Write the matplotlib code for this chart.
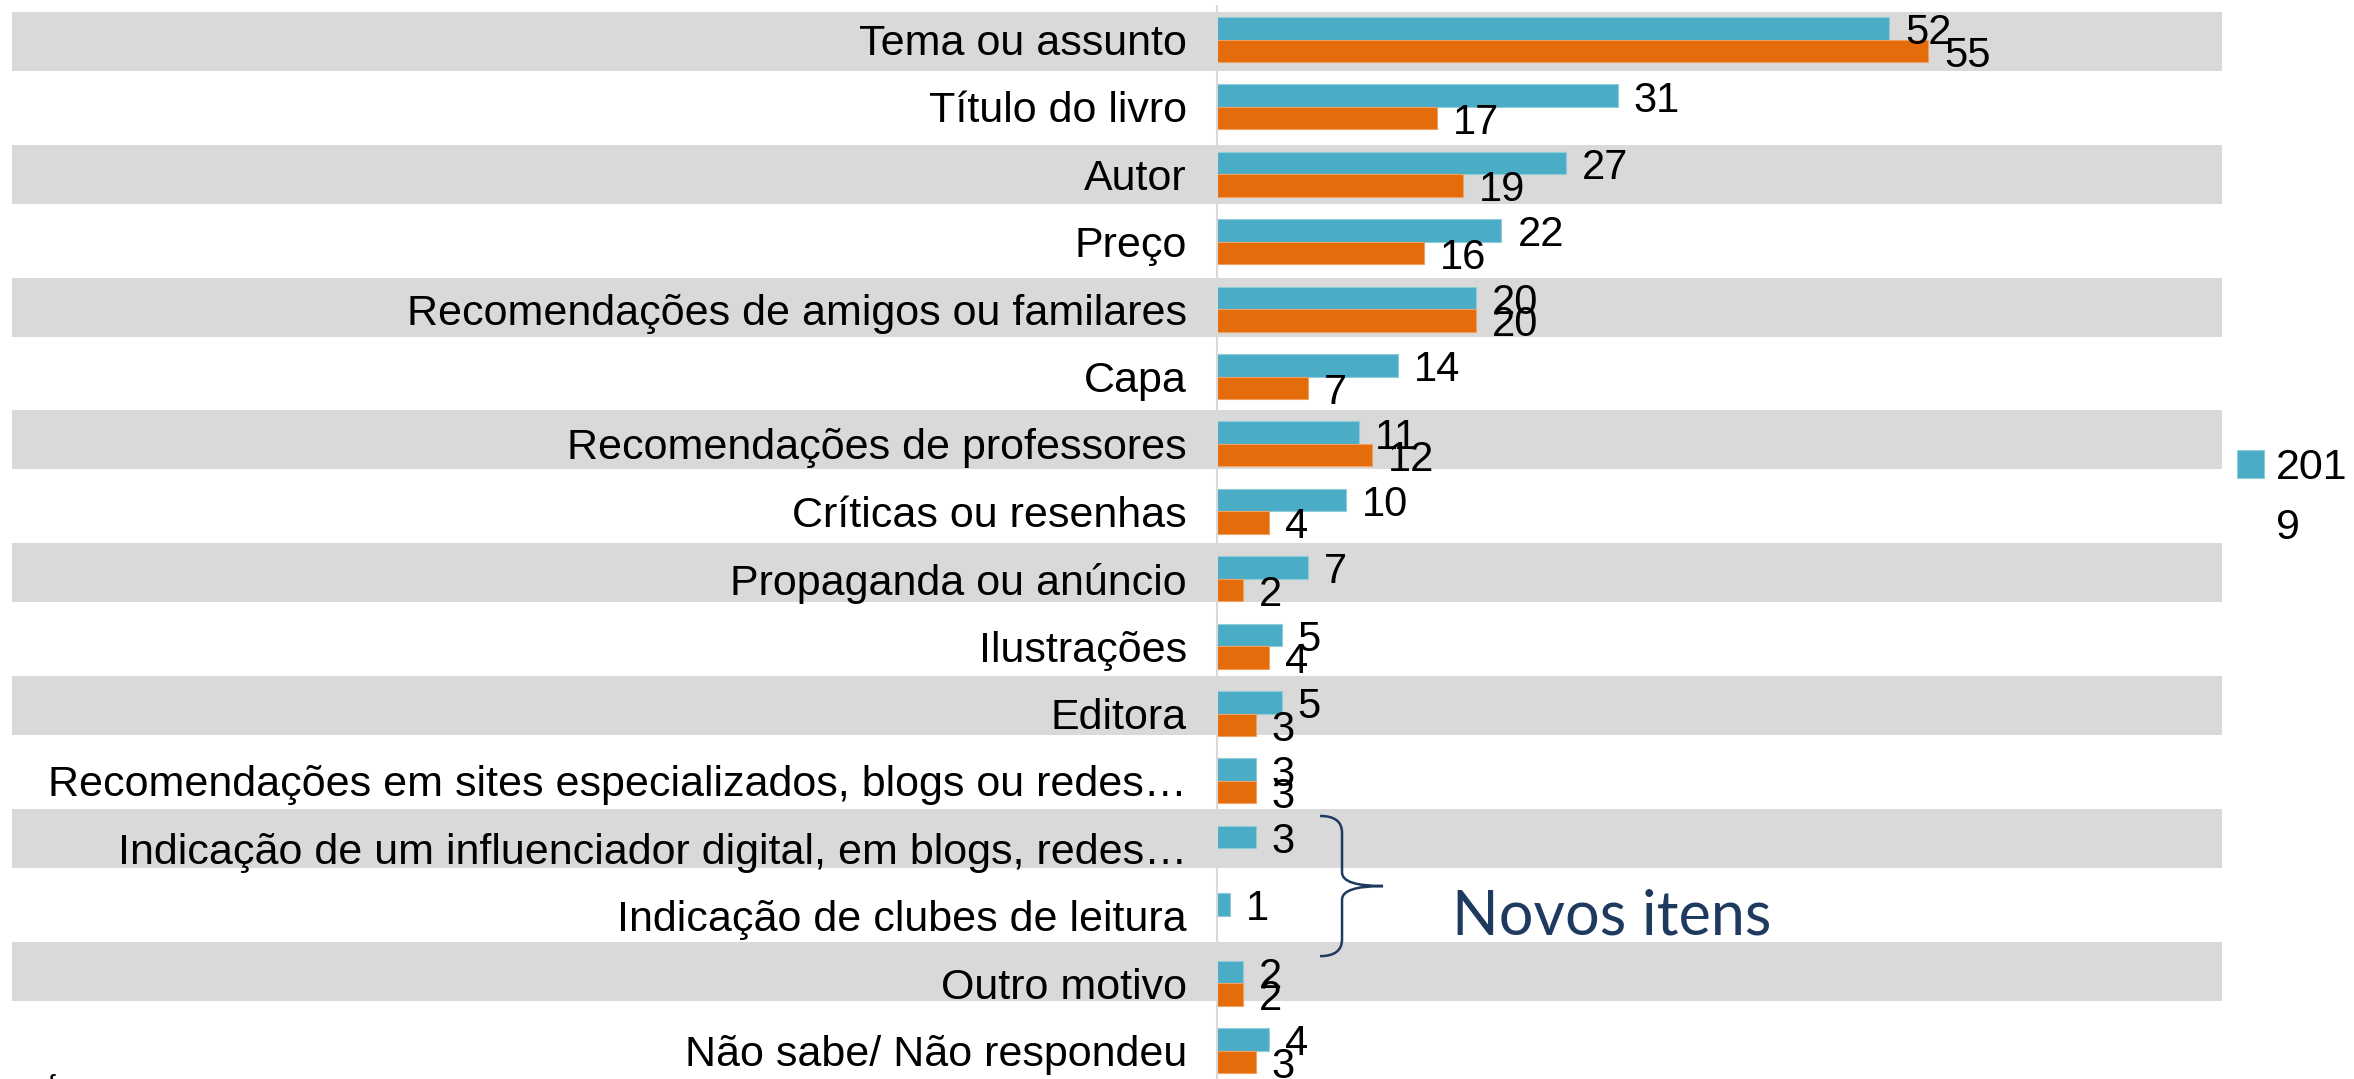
import numpy as np
import matplotlib
matplotlib.use("Agg")
import matplotlib.pyplot as plt
from matplotlib.path import Path
from matplotlib.patches import PathPatch

plt.rcParams['font.family'] = ['Liberation Sans', 'DejaVu Sans']

categories = [
    "Tema ou assunto",
    "Título do livro",
    "Autor",
    "Preço",
    "Recomendações de amigos ou familares",
    "Capa",
    "Recomendações de professores",
    "Críticas ou resenhas",
    "Propaganda ou anúncio",
    "Ilustrações",
    "Editora",
    "Recomendações em sites especializados, blogs ou redes…",
    "Indicação de um influenciador digital, em blogs, redes…",
    "Indicação de clubes de leitura",
    "Outro motivo",
    "Não sabe/ Não respondeu",
]
values_2019 = [52, 31, 27, 22, 20, 14, 11, 10, 7, 5, 5, 3, 3, 1, 2, 4]
values_2015 = [55, 17, 19, 16, 20, 7, 12, 4, 2, 4, 3, 3, None, None, 2, 3]
legend_label_line1 = "201"
legend_label_line2 = "9"
annotation_text = "Novos itens"

TEAL = "#4BACC6"
ORANGE = "#E46C0A"
GRAY = "#D9D9D9"
NAVY = "#1F3A5F"

W, H = 2354, 1079
fig = plt.figure(figsize=(W / 100, H / 100), dpi=100)

n = len(categories)
rows = np.arange(n)

# background stripes
bg = fig.add_axes([12 / W, 1 - 1070.7 / H, (2222 - 12) / W, (1070.7 - 8.3) / H])
bg.set_xlim(0, 1)
bg.set_ylim(n - 0.5, -0.5)
bg.axis('off')
even = rows[rows % 2 == 0]
bg.barh(even, 1, left=0, height=59 / 66.4, color=GRAY, linewidth=0)

# main axes
ax = fig.add_axes([1217 / W, 1 - 1084.2 / H, (2222 - 1217) / W, (1084.2 - 5.8) / H])
ax.patch.set_alpha(0)
ax.set_xlim(0, (2222 - 1217) / 12.93)
ax.set_ylim(n - 0.5, -0.5)

h = 22.5 / 67.4
t_bars = ax.barh(rows - h / 2, values_2019, height=h, color=TEAL,
                 edgecolor="#8FCBDB", linewidth=0.8, label="2019")
idx15 = [i for i, v in enumerate(values_2015) if v is not None]
o_bars = ax.barh(rows[idx15] + h / 2, [values_2015[i] for i in idx15], height=h,
                 color=ORANGE, edgecolor="#F0A060", linewidth=0.8)

for cont in (t_bars, o_bars):
    labels = ax.bar_label(cont, padding=11.5, fontsize=30)
    for t in labels:
        t.xyann = (11.5, -3.5)

ax.set_yticks(rows, labels=categories, fontsize=31)
ax.tick_params(axis='y', length=0, pad=21.6)
ax.tick_params(axis='x', length=0, labelbottom=False)
for s in ['top', 'right', 'bottom']:
    ax.spines[s].set_visible(False)
ax.spines['left'].set_color(GRAY)
ax.spines['left'].set_linewidth(1.5)

# brace
x0, x1, x2 = 7.97, 9.67, 12.84
yt, ym, yb = 11.52, 12.56, 13.6
verts = [(x0, yt), (x1, yt), (x1, yt + 0.25),
         (x1, ym - 0.2), (x1, ym), (x2, ym),
         (x1, ym), (x1, ym + 0.2),
         (x1, yb - 0.25), (x1, yb), (x0, yb)]
codes = [Path.MOVETO, Path.CURVE3, Path.CURVE3,
         Path.LINETO, Path.CURVE3, Path.CURVE3,
         Path.CURVE3, Path.CURVE3,
         Path.LINETO, Path.CURVE3, Path.CURVE3]
ax.add_patch(PathPatch(Path(verts, codes), facecolor='none', edgecolor=NAVY,
                       linewidth=1.8, clip_on=False))
ax.text((1452 - 1217) / 12.93, (934 - 39.5) / 67.4, annotation_text,
        fontsize=44, family=['Lato', 'Liberation Sans'], fontweight='normal',
        color=NAVY, ha='left', va='baseline')

# legend (label wrapped onto two lines as in the original)
ax.legend(handles=[t_bars], labels=[legend_label_line1], loc='upper left',
          bbox_to_anchor=(2237 / W, 1 - 448 / H), bbox_transform=fig.transFigure,
          frameon=False, fontsize=31, handlelength=0.63, handleheight=0.63,
          handletextpad=0.28, borderpad=0, borderaxespad=0)
fig.text(2276 / W, 1 - 539 / H, legend_label_line2, fontsize=31,
         ha='left', va='baseline')

fig.text(48 / W, 5 / H, "f", fontsize=20, va='top', ha='left')

fig.savefig("out.png", dpi=100)
